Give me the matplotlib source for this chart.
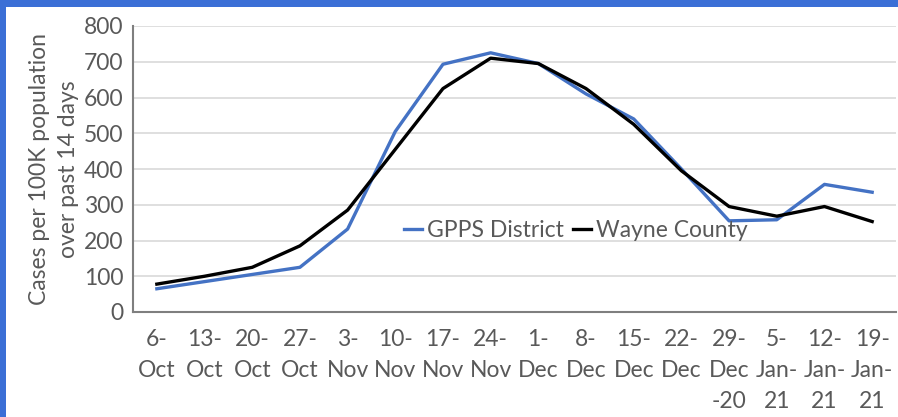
import matplotlib.pyplot as plt
from matplotlib.patches import Rectangle

weeks = ["6-\nOct", "13-\nOct", "20-\nOct", "27-\nOct", "3-\nNov", "10-\nNov", "17-\nNov", "24-\nNov",
         "1-\nDec", "8-\nDec", "15-\nDec", "22-\nDec", "29-\nDec\n-20", "5-\nJan-\n21", "12-\nJan-\n21", "19-\nJan-\n21"]
gpps = [65, 85, 105, 125, 232, 505, 693, 725, 695, 610, 540, 400, 255, 258, 357, 335]
wayne = [78, 100, 125, 185, 285, 455, 625, 710, 695, 625, 525, 395, 295, 268, 295, 253]

plt.rcParams['font.family'] = ['Lato', 'DejaVu Sans']
grey = '#595959'

fig = plt.figure(figsize=(8.98, 4.17), dpi=100, facecolor='#3b6fd6')
# white panel inside the blue frame
fig.patches.append(Rectangle((6 / 898, 0), 1, 1 - 7 / 417, transform=fig.transFigure,
                             facecolor='white', edgecolor='none', zorder=-1))

ax = fig.add_axes([133 / 898, 1 - 312 / 417, (896 - 133) / 898, (312 - 26) / 417])
ax.set_facecolor('white')
x = range(len(weeks))
ax.plot(x, gpps, color='#4472c4', lw=2.4, label='GPPS District', zorder=3)
ax.plot(x, wayne, color='black', lw=2.4, label='Wayne County', zorder=3)

ax.set_xlim(-0.5, len(weeks) - 0.5)
ax.set_ylim(0, 800)
ax.set_yticks(range(0, 801, 100))
ax.set_xticks(list(x))
ax.set_xticklabels(weeks, va='top', linespacing=1.6)
ax.grid(axis='y', color='#d9d9d9', lw=1.2)
ax.set_axisbelow(True)
ax.tick_params(length=0, labelsize=16.5, colors=grey)
ax.tick_params(axis='x', pad=12)
ax.tick_params(axis='y', pad=7)
for s in ['top', 'right']:
    ax.spines[s].set_visible(False)
for s in ['left', 'bottom']:
    ax.spines[s].set_color('#7f7f7f')
    ax.spines[s].set_linewidth(1.5)

ax.set_ylabel("Cases per 100K population\nover past 14 days", fontsize=16.5, color=grey,
              labelpad=3, linespacing=1.5)

leg = ax.legend(loc='center', bbox_to_anchor=(0.58, 0.285), ncol=2, frameon=False, fontsize=16.5,
                handlelength=0.8, handletextpad=0.2, columnspacing=0.4)
for t in leg.get_texts():
    t.set_color(grey)

fig.savefig('out.png', dpi=100, facecolor=fig.get_facecolor())
